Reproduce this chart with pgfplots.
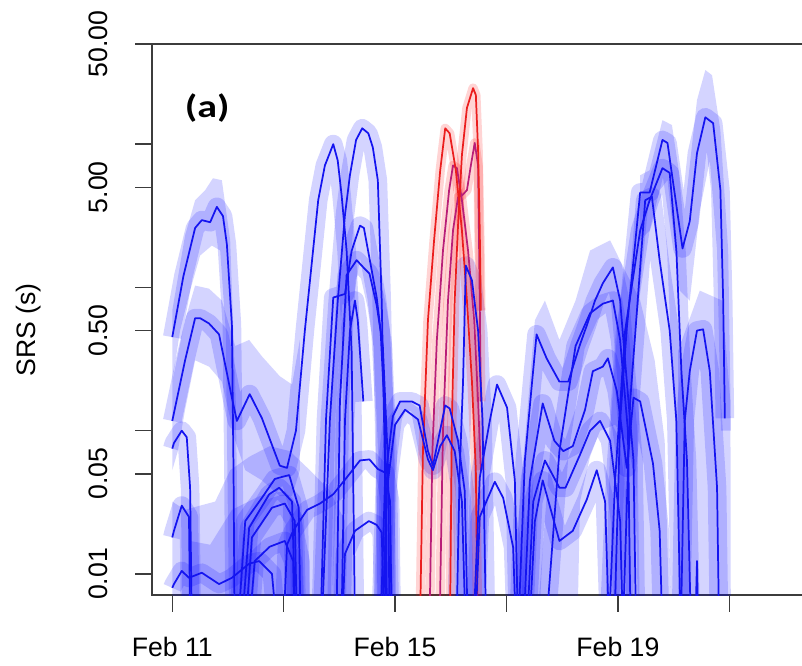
\documentclass[border=0pt]{standalone}
\usepackage{fontspec}
\setmainfont{Liberation Sans}
\newfontfamily\calib{Carlito}
\usepackage{graphicx}
\usepackage{pgfplots}
\usepackage{pgfplotstable}
\pgfplotsset{compat=1.18}
\definecolor{bline}{RGB}{20,20,240}
\definecolor{rline}{RGB}{235,30,30}
\definecolor{pline}{RGB}{185,30,120}
\definecolor{axc}{RGB}{60,60,60}

% ---------- blue series ----------
\pgfplotstableread{
x y
11.00 0.45
11.20 1.2
11.41 2.6
11.53 2.95
11.68 2.85
11.80 3.65
11.91 3.15
11.98 2.0
12.07 0.55
12.10 0.05
12.13 0.001
}\sA
\pgfplotstableread{
x y
11.00 0.117
11.23 0.31
11.41 0.61
11.50 0.61
11.66 0.56
11.84 0.47
12.07 0.17
12.16 0.117
12.39 0.18
12.61 0.122
12.93 0.057
13.06 0.055
13.22 0.10
13.38 0.5
13.62 4.06
13.74 7.1
13.89 10.0
13.97 7.7
14.04 4.4
14.13 1.8
14.22 0.36
14.30 0.001
}\sB
\pgfplotstableread{
x y
13.62 0.001
13.83 0.12
13.97 0.8
14.10 3.2
14.19 6.1
14.30 10.7
14.41 12.9
14.52 11.9
14.60 9.5
14.69 5.6
14.76 0.8
14.82 0.053
14.85 0.001
}\sC
\pgfplotstableread{
x y
13.62 0.001
13.76 0.12
13.89 0.85
14.10 0.9
14.22 1.8
14.37 2.7
14.44 2.6
14.54 1.6
14.67 0.85
14.74 0.5
14.82 0.117
14.87 0.001
}\sD
\pgfplotstableread{
x y
13.92 0.001
14.01 0.16
14.13 1.22
14.31 1.55
14.43 1.38
14.54 1.25
14.67 0.75
14.78 0.39
14.87 0.062
14.92 0.001
}\sE
\pgfplotstableread{
x y
14.01 0.001
14.10 0.117
14.19 0.5
14.28 0.81
14.33 0.59
14.43 0.16
}\sF
\pgfplotstableread{
x y
12.93 0.001
13.06 0.016
13.17 0.020
13.42 0.028
13.65 0.031
13.89 0.036
14.13 0.047
14.37 0.062
14.54 0.063
14.69 0.054
14.82 0.051
14.91 0.032
14.96 0.001
}\sG
\pgfplotstableread{
x y
13.99 0.001
14.10 0.0138
14.28 0.020
14.53 0.0234
14.67 0.022
14.76 0.0195
14.85 0.001
}\sH
\pgfplotstableread{
x y
11.00 0.075
11.03 0.082
11.17 0.10
11.26 0.09
11.32 0.040
11.37 0.001
}\sLa
\pgfplotstableread{
x y
11.00 0.018
11.03 0.020
11.17 0.030
11.30 0.025
11.34 0.001
}\sLb
\pgfplotstableread{
x y
11.00 0.008
11.03 0.0085
11.17 0.0105
11.30 0.0094
11.53 0.0102
11.84 0.0085
12.07 0.0094
12.38 0.0118
12.56 0.0123
12.79 0.0100
13.02 0.001
}\sLc
\pgfplotstableread{
x y
12.07 0.001
12.31 0.0234
12.61 0.034
12.84 0.046
12.92 0.047
13.10 0.049
13.27 0.029
13.33 0.001
}\sLd
\pgfplotstableread{
x y
12.13 0.001
12.38 0.021
12.74 0.036
12.92 0.040
13.15 0.032
13.26 0.001
}\sLe
\pgfplotstableread{
x y
12.20 0.001
12.43 0.018
12.79 0.029
13.02 0.031
13.20 0.0234
13.27 0.001
}\sLf
\pgfplotstableread{
x y
12.25 0.001
12.48 0.0123
12.75 0.0155
13.02 0.017
13.17 0.0123
13.22 0.001
}\sLg
\pgfplotstableread{
x y
14.69 0.001
14.82 0.045
14.96 0.126
15.09 0.16
15.30 0.16
15.44 0.15
15.59 0.072
15.68 0.057
15.77 0.085
15.90 0.15
15.98 0.143
16.13 0.085
16.25 0.038
16.34 0.001
}\sI
\pgfplotstableread{
x y
14.73 0.001
14.85 0.038
15.00 0.11
15.18 0.14
15.41 0.12
15.59 0.063
15.68 0.053
15.81 0.078
15.93 0.093
16.07 0.072
16.20 0.032
16.31 0.001
}\sJ
\pgfplotstableread{
x y
16.07 0.001
16.16 0.053
16.22 0.22
16.27 1.42
16.38 1.12
16.49 0.5
16.57 0.117
16.66 0.001
}\sK
\pgfplotstableread{
x y
16.34 0.001
16.52 0.047
16.70 0.117
16.83 0.21
17.01 0.145
17.15 0.045
17.24 0.001
}\sM
\pgfplotstableread{
x y
16.38 0.001
16.52 0.025
16.79 0.044
16.94 0.034
17.12 0.0153
17.22 0.001
}\sN
\pgfplotstableread{
x y
17.15 0.001
17.33 0.062
17.46 0.22
17.54 0.47
17.72 0.32
17.95 0.22
18.11 0.22
18.32 0.40
18.44 0.54
18.59 0.81
18.73 1.07
18.91 1.38
19.04 0.81
19.16 0.22
19.28 0.062
19.35 0.001
}\rA
\pgfplotstableread{
x y
17.24 0.001
17.42 0.045
17.65 0.155
17.86 0.085
18.02 0.072
18.19 0.078
18.41 0.14
18.55 0.26
18.73 0.28
18.82 0.32
18.98 0.19
19.16 0.055
19.28 0.17
19.40 0.16
19.63 0.059
19.75 0.020
19.84 0.001
}\rB
\pgfplotstableread{
x y
17.29 0.001
17.48 0.032
17.69 0.062
17.95 0.040
18.06 0.040
18.32 0.068
18.50 0.10
18.68 0.117
18.86 0.085
19.04 0.0234
19.13 0.001
}\rC
\pgfplotstableread{
x y
17.33 0.001
17.51 0.0234
17.65 0.045
17.95 0.017
18.19 0.020
18.44 0.033
18.62 0.053
18.77 0.032
18.89 0.001
}\rD
\pgfplotstableread{
x y
18.89 0.001
19.04 0.117
19.16 0.52
19.40 4.6
19.57 4.6
19.80 10.7
19.89 10.2
20.16 1.87
20.29 2.9
20.42 8.65
20.57 15.4
20.71 14.0
20.84 4.8
20.89 0.81
20.92 0.122
}\rE
\pgfplotstableread{
x y
18.77 0.001
18.95 0.045
19.13 0.5
19.40 2.5
19.57 4.06
19.80 6.8
19.93 6.3
20.05 1.8
20.14 0.26
20.24 0.062
20.35 0.001
}\rF
\pgfplotstableread{
x y
19.04 0.001
19.22 0.16
19.49 4.06
19.61 4.3
19.75 1.54
19.93 0.5
20.05 0.117
20.16 0.001
}\rG
\pgfplotstableread{
x y
20.10 0.001
20.20 0.117
20.29 0.26
20.42 0.50
20.53 0.51
20.65 0.26
20.78 0.040
20.84 0.001
}\rH
\pgfplotstableread{
x y
20.35 0.001
20.42 0.0123
20.47 0.001
}\rI
\pgfplotstableread{
x y
17.59 0.001
17.95 0.072
18.24 0.39
18.50 0.66
18.73 0.77
18.91 0.81
19.04 0.43
19.18 0.10
19.25 0.001
}\rJ

% ---------- red series ----------
\pgfplotstableread{
x y
15.42 0.001
15.50 0.072
15.59 0.59
15.70 2.13
15.81 6.57
15.90 12.9
15.98 11.9
16.09 6.6
16.20 2.5
16.29 0.81
16.38 0.22
16.45 0.053
16.50 0.001
}\qA
\pgfplotstableread{
x y
15.97 0.001
16.02 0.117
16.07 0.81
16.13 2.7
16.20 8.4
16.29 17.9
16.40 24.6
16.45 22
16.49 9.1
16.52 2.5
16.54 0.69
}\qB
\pgfplotstableread{
x y
15.59 0.001
15.67 0.072
15.75 0.43
15.86 1.81
15.97 4.77
16.04 7.1
16.11 6.8
16.20 4.06
16.31 1.81
16.42 0.59
16.49 0.16
16.54 0.053
}\qC
\pgfplotstableread{
x y
15.77 0.001
15.86 0.10
15.95 0.81
16.04 2.5
16.13 4.26
16.20 4.38
16.29 4.77
16.36 7.1
16.43 10.2
16.49 7.1
16.52 0.81
16.54 0.16
}\qD

% ---------- shaded areas (polygons) ----------
\pgfplotstableread{
x y
11.00 0.69
11.23 2.31
11.41 4.06
11.59 4.77
11.73 5.78
11.89 5.6
12.04 2.13
12.14 0.16
12.22 0.001
12.04 0.001
11.96 0.5
11.86 1.81
11.71 1.96
11.50 1.67
11.32 0.95
11.14 0.5
11.00 0.22
}\pS
\pgfplotstableread{
x y
11.00 0.22
11.23 0.59
11.41 1.03
11.66 0.98
11.89 0.81
12.13 0.39
12.38 0.43
12.61 0.33
12.93 0.24
13.15 0.21
13.29 0.43
13.29 0.053
13.15 0.035
12.93 0.035
12.61 0.045
12.31 0.053
12.13 0.085
11.89 0.22
11.66 0.28
11.41 0.31
11.23 0.14
11.10 0.072
11.00 0.053
}\pA
\pgfplotstableread{
x y
11.00 0.032
11.23 0.028
11.50 0.030
11.77 0.032
12.04 0.053
12.39 0.066
12.75 0.078
13.11 0.072
13.47 0.053
13.83 0.038
14.10 0.0234
14.10 0.001
11.00 0.001
}\pB
\pgfplotstableread{
x y
11.32 0.017
11.68 0.016
12.07 0.028
12.57 0.035
13.02 0.038
13.29 0.028
13.47 0.0123
13.47 0.001
11.32 0.001
}\pC
\pgfplotstableread{
x y
17.15 0.0123
17.33 0.085
17.51 0.59
17.69 0.81
17.95 0.43
18.24 0.81
18.50 1.81
18.86 2.13
19.13 1.31
19.40 0.81
19.66 0.31
19.84 0.085
19.97 0.001
19.40 0.001
19.31 0.045
19.16 0.085
18.95 0.11
18.68 0.10
18.50 0.066
18.32 0.032
18.24 0.001
17.15 0.001
}\pR
\pgfplotstableread{
x y
20.08 0.36
20.47 0.95
20.87 0.81
21.02 0.16
21.03 0.001
20.08 0.001
}\pT
\pgfplotstableread{
x y
19.40 6.07
19.57 6.57
19.80 14.7
19.97 13.6
20.20 3.45
20.42 20.3
20.57 32.9
20.69 30.3
20.84 12.5
20.98 1.81
21.03 0.10
20.85 0.10
20.78 1.81
20.65 7.72
20.47 3.45
20.29 0.81
20.11 0.95
19.89 5.6
19.75 4.77
19.57 2.5
19.40 2.13
}\pU

\pgfplotsset{
  bb/.style={draw=blue, draw opacity=0.17, line width=14pt, line join=round, line cap=butt, mark=none},
  bl/.style={draw=bline, line width=1.3pt, line join=round, mark=none},
  rb/.style={draw=red, draw opacity=0.17, line width=7pt, line join=round, line cap=butt, mark=none},
  rl/.style={draw=rline, line width=1.3pt, line join=round, mark=none},
  pl/.style={draw=pline, line width=1.3pt, line join=round, mark=none},
  poly/.style={fill=blue, fill opacity=0.17, draw=none, mark=none},
}

\begin{document}
\begin{tikzpicture}
\useasboundingbox (0,0) rectangle (601.5pt,498.75pt);
\begin{axis}[
  at={(114pt,52.5pt)}, anchor=south west,
  scale only axis, width=490.5pt, height=413.25pt,
  xmin=10.636, xmax=22.377,
  ymode=log, ymin=0.00713, ymax=50,
  axis line style={axc, line width=1.1pt},
  tick style={axc, line width=1.1pt},
  tick align=outside, tick pos=left,
  major tick length=12.75pt,
  minor tick num=0,
  xtick={11,13,15,17,19,21},
  xticklabels={{\mbox{Feb 11}},,{\mbox{Feb 15}},,{\mbox{Feb 19}},},
  ytick={0.01,0.05,0.1,0.5,1,5,10,50},
  yticklabels={{\rotatebox{90}{0.01}},{\rotatebox{90}{0.05}},,{\rotatebox{90}{0.50}},,{\rotatebox{90}{5.00}},,{\rotatebox{90}{50.00}}},
  xticklabel style={anchor=north, inner sep=0pt, font=\fontsize{20}{24}\selectfont},
  yticklabel style={anchor=east, inner sep=0pt, font=\fontsize{20}{24}\selectfont},
  xticklabel shift=18.75pt,
  yticklabel shift=20.25pt,
  ylabel={SRS (s)},
  ylabel style={at={(axis description cs:-0.188,0.481)}, anchor=center, font=\fontsize{20}{24}\selectfont},
  clip=true,
]
% polygons
\addplot[poly] table {\pS} -- cycle;
\addplot[poly] table {\pA} -- cycle;
\addplot[poly] table {\pB} -- cycle;
\addplot[poly] table {\pC} -- cycle;
\addplot[poly] table {\pR} -- cycle;
\addplot[poly] table {\pT} -- cycle;
\addplot[poly] table {\pU} -- cycle;
% blue bands
\addplot[bb] table {\sA};
\addplot[bb] table {\sB};
\addplot[bb] table {\sC};
\addplot[bb] table {\sD};
\addplot[bb] table {\sE};
\addplot[bb] table {\sF};
\addplot[bb] table {\sG};
\addplot[bb] table {\sH};
\addplot[bb] table {\sLa};
\addplot[bb] table {\sLb};
\addplot[bb] table {\sLc};
\addplot[bb] table {\sLd};
\addplot[bb] table {\sLe};
\addplot[bb] table {\sLf};
\addplot[bb] table {\sLg};
\addplot[bb] table {\sI};
\addplot[bb] table {\sJ};
\addplot[bb] table {\sK};
\addplot[bb] table {\sM};
\addplot[bb] table {\sN};
\addplot[bb] table {\rA};
\addplot[bb] table {\rB};
\addplot[bb] table {\rC};
\addplot[bb] table {\rD};
\addplot[bb] table {\rE};
\addplot[bb] table {\rF};
\addplot[bb] table {\rG};
\addplot[bb] table {\rH};
\addplot[bb] table {\rJ};
% red bands and lines
\addplot[rb] table {\qA};
\addplot[rb] table {\qB};
\addplot[rb] table {\qC};
\addplot[rb] table {\qD};
\addplot[pl] table {\qC};
\addplot[pl] table {\qD};
\addplot[rl] table {\qA};
\addplot[rl] table {\qB};
% blue lines
\addplot[bl] table {\sA};
\addplot[bl] table {\sB};
\addplot[bl] table {\sC};
\addplot[bl] table {\sD};
\addplot[bl] table {\sE};
\addplot[bl] table {\sF};
\addplot[bl] table {\sG};
\addplot[bl] table {\sH};
\addplot[bl] table {\sLa};
\addplot[bl] table {\sLb};
\addplot[bl] table {\sLc};
\addplot[bl] table {\sLd};
\addplot[bl] table {\sLe};
\addplot[bl] table {\sLf};
\addplot[bl] table {\sLg};
\addplot[bl] table {\sI};
\addplot[bl] table {\sJ};
\addplot[bl] table {\sK};
\addplot[bl] table {\sM};
\addplot[bl] table {\sN};
\addplot[bl] table {\rA};
\addplot[bl] table {\rB};
\addplot[bl] table {\rC};
\addplot[bl] table {\rD};
\addplot[bl] table {\rE};
\addplot[bl] table {\rF};
\addplot[bl] table {\rG};
\addplot[bl] table {\rH};
\addplot[bl] table {\rI};
\addplot[bl] table {\rJ};
\node[anchor=center, inner sep=0pt] at (axis description cs:0.0846,0.884)
  {\calib\bfseries\fontsize{24}{28}\selectfont\scalebox{1.25}[1]{(a)}};
\end{axis}
\end{tikzpicture}
\end{document}
